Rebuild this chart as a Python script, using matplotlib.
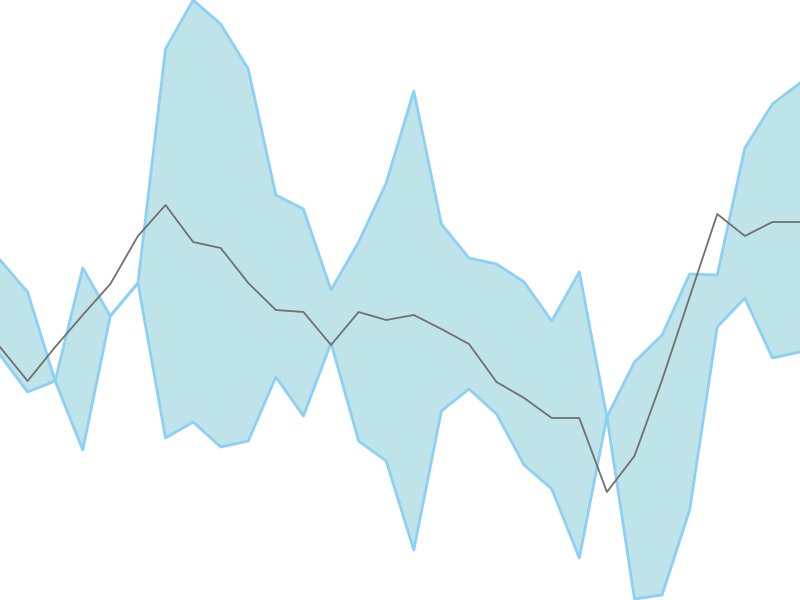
import numpy as np
import matplotlib
matplotlib.use("Agg")
import matplotlib.pyplot as plt

# values (screen height 600, larger = higher)
idx = np.arange(30)
band_a = [340, 308, 219, 332, 284, 317, 551, 600, 576, 531,
          405, 391, 310, 358, 417, 509, 376, 342, 336, 318,
          279, 328, 183, 1, 5, 90, 273, 302, 242, 248]
band_b = [245, 208, 219, 150, 284, 317, 162, 178, 153, 159,
          223, 184, 257, 159, 139, 50, 189, 211, 186, 135,
          111, 42, 183, 238, 265, 326, 325, 452, 496, 517]
mid = [253, 219, 253, 285, 316, 364, 395, 358, 352, 317,
       290, 288, 255, 288, 280, 285, 271, 256, 218, 202,
       182, 182, 108, 144, 220, 303, 386, 364, 378, 378]

fig = plt.figure(figsize=(8, 6), dpi=100)
ax = fig.add_axes([0, 0, 1, 1])
ax.fill_between(idx, band_a, band_b, color='#bee3e8', linewidth=0)
ax.plot(idx, band_a, color='#8dcff5', linewidth=2)
ax.plot(idx, band_b, color='#8dcff5', linewidth=2)
ax.plot(idx, mid, color='#707070', linewidth=1.3)
ax.set_xlim(0, 29)
ax.set_ylim(0, 600)
ax.axis('off')
fig.savefig('out.png', dpi=100)
